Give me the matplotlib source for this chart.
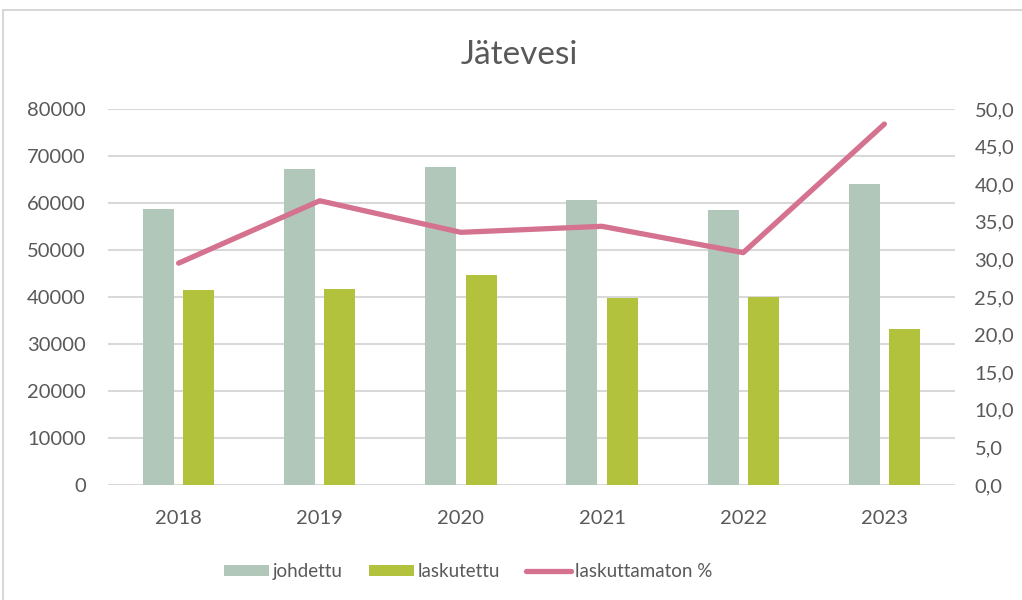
import numpy as np
import matplotlib.pyplot as plt
from matplotlib.patches import Rectangle
from matplotlib.ticker import FuncFormatter, MultipleLocator

years       = ['2018', '2019', '2020', '2021', '2022', '2023']
johdettu    = [58700, 67200, 67700, 60600, 58500, 64100]
laskutettu  = [41500, 41700, 44700, 39800, 40000, 33200]
laskuttamaton = [29.5, 37.8, 33.6, 34.4, 30.9, 48.0]

col_joh  = '#B0C7BA'
col_lask = '#B3C23C'
col_line = '#D4728F'
col_txt  = '#595959'
col_grid = '#D9D9D9'

plt.rcParams['font.family'] = ['Lato', 'DejaVu Sans']

fig = plt.figure(figsize=(10.22, 6.0), dpi=100)
# outer chart frame
fig.patches.append(Rectangle((3/1022, -0.01), 1.02, 1 - 10/600 + 0.01,
                             transform=fig.transFigure, fill=False,
                             edgecolor='#D0D0D0', linewidth=1.2))

ax = fig.add_axes([0.1057, 0.1917, 0.8287, 0.6266])
x = np.arange(len(years))
w = 0.22
ax.bar(x - 0.143, johdettu, w, color=col_joh, label='johdettu', zorder=2)
ax.bar(x + 0.143, laskutettu, w, color=col_lask, label='laskutettu', zorder=2)

ax.set_xlim(-0.5, len(years) - 0.5)
ax.set_ylim(0, 80000)
ax.yaxis.set_major_locator(MultipleLocator(10000))
ax.grid(axis='y', color=col_grid, linewidth=1.5, zorder=0)
ax.set_axisbelow(True)
for s in ax.spines.values():
    s.set_visible(False)
ax.set_xticks(x, years)
ax.tick_params(length=0, labelsize=14.5, labelcolor=col_txt)
ax.tick_params(axis='x', pad=18)
ax.tick_params(axis='y', pad=16)

ax2 = ax.twinx()
ax2.plot(x, laskuttamaton, color=col_line, linewidth=3.8,
         solid_capstyle='round', solid_joinstyle='round', label='laskuttamaton %', zorder=3)
ax2.set_ylim(0, 50)
ax2.yaxis.set_major_locator(MultipleLocator(5))
ax2.yaxis.set_major_formatter(FuncFormatter(lambda v, p: f'{v:.1f}'.replace('.', ',')))
for s in ax2.spines.values():
    s.set_visible(False)
ax2.tick_params(length=0, labelsize=14.5, labelcolor=col_txt, pad=14)

fig.text(0.508, 0.908, 'Jätevesi', ha='center', va='center',
         fontsize=24, color=col_txt)

h1, l1 = ax.get_legend_handles_labels()
h2, l2 = ax2.get_legend_handles_labels()
fig.legend(h1 + h2, l1 + l2, loc='center', bbox_to_anchor=(0.458, 0.047), ncol=3,
           frameon=False, fontsize=13.5, labelcolor=col_txt,
           handlelength=2.4, handleheight=0.55, handletextpad=0.2, columnspacing=1.4)

plt.savefig('out.png', dpi=100)
